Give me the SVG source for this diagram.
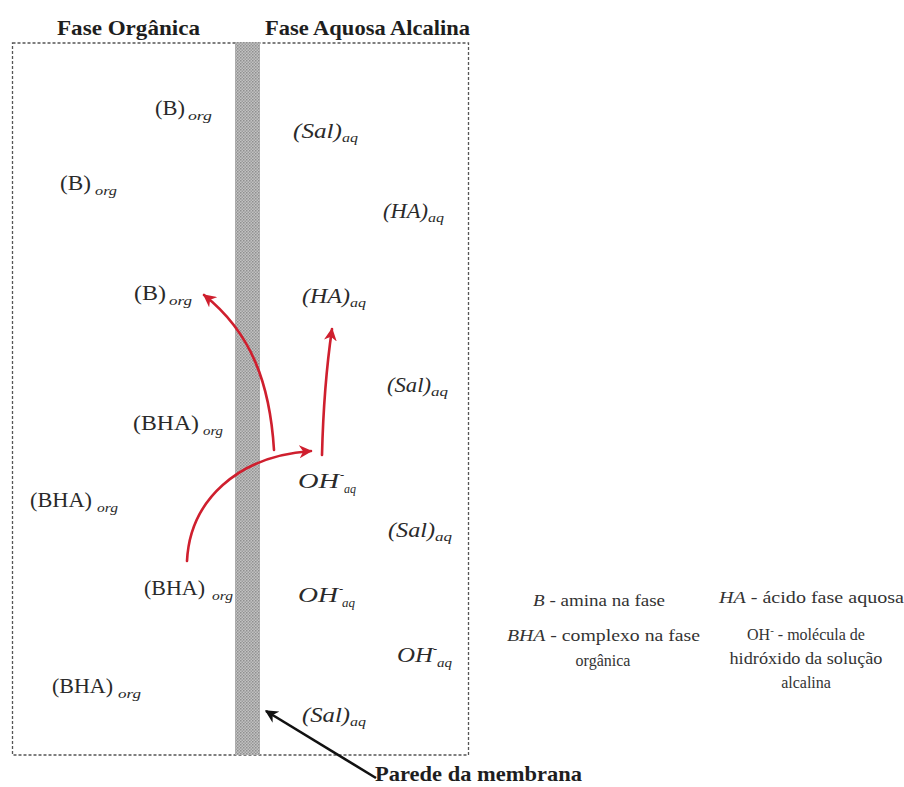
<svg xmlns="http://www.w3.org/2000/svg" width="904" height="787" viewBox="0 0 904 787">
<style>
  text{fill:#2a2a2a}
  .m{font-size:21.5px}
  .i{font-style:italic}
  .s{font-size:12.5px;font-style:italic}
  .h{font-size:22px;font-weight:bold;fill:#1e1e1e}
  .lg{font-size:16px;fill:#333}
  .red{fill:none;stroke:#cf1f2e;stroke-width:2.6;stroke-linecap:round}
  .blk{fill:none;stroke:#111;stroke-width:2.6}
</style>
<defs>
  <pattern id="hatch" width="3" height="3" patternUnits="userSpaceOnUse">
    <rect width="3" height="3" fill="#c2c2c2"/>
    <rect width="1.5" height="1.5" fill="#8f8f8f"/>
    <rect x="1.5" y="1.5" width="1.5" height="1.5" fill="#9c9c9c"/>
  </pattern>
  <marker id="ar" viewBox="0 0 10 10" refX="9" refY="5" markerWidth="5" markerHeight="5" orient="auto" markerUnits="strokeWidth">
    <path d="M0,0 L10,5 L0,10 L3,5 z" fill="#cf1f2e"/>
  </marker>
  <marker id="ab" viewBox="0 0 10 10" refX="9" refY="5" markerWidth="5" markerHeight="5" orient="auto" markerUnits="strokeWidth">
    <path d="M0,0 L10,5 L0,10 L3,5 z" fill="#111"/>
  </marker>
</defs>
<rect width="904" height="787" fill="#fff"/>

<g id="box">
  <rect x="12.5" y="43" width="456" height="712" fill="none" stroke="#555" stroke-width="1.3" stroke-dasharray="3,2"/>
</g>

<g id="membrane">
  <rect x="235" y="42" width="25" height="713" fill="url(#hatch)"/>
</g>

<g font-family="Liberation Serif, serif">
<g id="titles">
  <text class="h" x="57" y="35" textLength="143" lengthAdjust="spacingAndGlyphs">Fase Orgânica</text>
  <text class="h" x="265" y="35" textLength="205" lengthAdjust="spacingAndGlyphs">Fase Aquosa Alcalina</text>
</g>

<g id="B1"><text class="m" x="155" y="115" textLength="30" lengthAdjust="spacingAndGlyphs">(B)</text><text class="s" x="188" y="120" textLength="24" lengthAdjust="spacingAndGlyphs">org</text></g>
<g id="B2"><text class="m" x="60" y="190" textLength="31" lengthAdjust="spacingAndGlyphs">(B)</text><text class="s" x="95" y="195" textLength="22" lengthAdjust="spacingAndGlyphs">org</text></g>
<g id="B3"><text class="m" x="134" y="300" textLength="32" lengthAdjust="spacingAndGlyphs">(B)</text><text class="s" x="169" y="305" textLength="23" lengthAdjust="spacingAndGlyphs">org</text></g>

<g id="BHA1"><text class="m" x="133" y="430" textLength="66" lengthAdjust="spacingAndGlyphs">(BHA)</text><text class="s" x="203" y="435" textLength="20" lengthAdjust="spacingAndGlyphs">org</text></g>
<g id="BHA2"><text class="m" x="30" y="507" textLength="62" lengthAdjust="spacingAndGlyphs">(BHA)</text><text class="s" x="97" y="512" textLength="21" lengthAdjust="spacingAndGlyphs">org</text></g>
<g id="BHA3"><text class="m" x="144" y="595" textLength="61" lengthAdjust="spacingAndGlyphs">(BHA)</text><text class="s" x="212" y="600" textLength="21" lengthAdjust="spacingAndGlyphs">org</text></g>
<g id="BHA4"><text class="m" x="52" y="693" textLength="61" lengthAdjust="spacingAndGlyphs">(BHA)</text><text class="s" x="118" y="698" textLength="23" lengthAdjust="spacingAndGlyphs">org</text></g>

<g id="Sal1"><text class="m i" x="293" y="138" textLength="49" lengthAdjust="spacingAndGlyphs">(Sal)</text><text class="s" x="342" y="142" textLength="16" lengthAdjust="spacingAndGlyphs">aq</text></g>
<g id="Sal2"><text class="m i" x="387" y="392" textLength="44" lengthAdjust="spacingAndGlyphs">(Sal)</text><text class="s" x="431" y="396" textLength="17" lengthAdjust="spacingAndGlyphs">aq</text></g>
<g id="Sal3"><text class="m i" x="388" y="537" textLength="47" lengthAdjust="spacingAndGlyphs">(Sal)</text><text class="s" x="435" y="541" textLength="17" lengthAdjust="spacingAndGlyphs">aq</text></g>
<g id="Sal4"><text class="m i" x="302" y="722" textLength="48" lengthAdjust="spacingAndGlyphs">(Sal)</text><text class="s" x="350" y="726" textLength="16" lengthAdjust="spacingAndGlyphs">aq</text></g>

<g id="HA1"><text class="m i" x="383" y="218" textLength="45" lengthAdjust="spacingAndGlyphs">(HA)</text><text class="s" x="428" y="222" textLength="16" lengthAdjust="spacingAndGlyphs">aq</text></g>
<g id="HA2"><text class="m i" x="302" y="303" textLength="48" lengthAdjust="spacingAndGlyphs">(HA)</text><text class="s" x="350" y="307" textLength="16" lengthAdjust="spacingAndGlyphs">aq</text></g>

<g id="OH1"><text class="m i" x="298" y="488" textLength="41" lengthAdjust="spacingAndGlyphs">OH</text><text class="s" x="340" y="479">-</text><text class="s" x="344" y="493" textLength="12" lengthAdjust="spacingAndGlyphs">aq</text></g>
<g id="OH2"><text class="m i" x="298" y="602" textLength="40" lengthAdjust="spacingAndGlyphs">OH</text><text class="s" x="339" y="593">-</text><text class="s" x="342" y="607" textLength="13" lengthAdjust="spacingAndGlyphs">aq</text></g>
<g id="OH3"><text class="m i" x="397" y="662" textLength="36" lengthAdjust="spacingAndGlyphs">OH</text><text class="s" x="433" y="653">-</text><text class="s" x="437" y="667" textLength="15" lengthAdjust="spacingAndGlyphs">aq</text></g>

<g id="wall-label">
  <text class="h" x="375" y="781" font-size="20" textLength="207" lengthAdjust="spacingAndGlyphs">Parede da membrana</text>
</g>

<g id="legend">
  <text class="lg" x="533" y="606" textLength="132" lengthAdjust="spacingAndGlyphs"><tspan font-style="italic">B</tspan> - amina na fase</text>
  <text class="lg" x="719" y="603" textLength="185" lengthAdjust="spacingAndGlyphs"><tspan font-style="italic">HA</tspan> - ácido fase aquosa</text>
  <text class="lg" x="507" y="641" textLength="193" lengthAdjust="spacingAndGlyphs"><tspan font-style="italic">BHA</tspan> - complexo na fase</text>
  <text class="lg" x="603" y="666" text-anchor="middle">orgânica</text>
  <text class="lg" x="806" y="640" text-anchor="middle">OH<tspan font-size="11" dy="-6">-</tspan><tspan dy="6"> - molécula de</tspan></text>
  <text class="lg" x="806" y="664" text-anchor="middle" textLength="153" lengthAdjust="spacingAndGlyphs">hidróxido da solução</text>
  <text class="lg" x="806" y="688" text-anchor="middle">alcalina</text>
</g>
</g>

<g id="connectors">
  <path class="red" d="M274,450 C270,385 252,333 204,295" marker-end="url(#ar)"/>
  <path class="red" d="M187,561 C190,500 238,456 311,451" marker-end="url(#ar)"/>
  <path class="red" d="M322,455 C323,415 326,370 332,329" marker-end="url(#ar)"/>
  <path class="blk" d="M376,778 L266,711" marker-end="url(#ab)"/>
</g>
</svg>
